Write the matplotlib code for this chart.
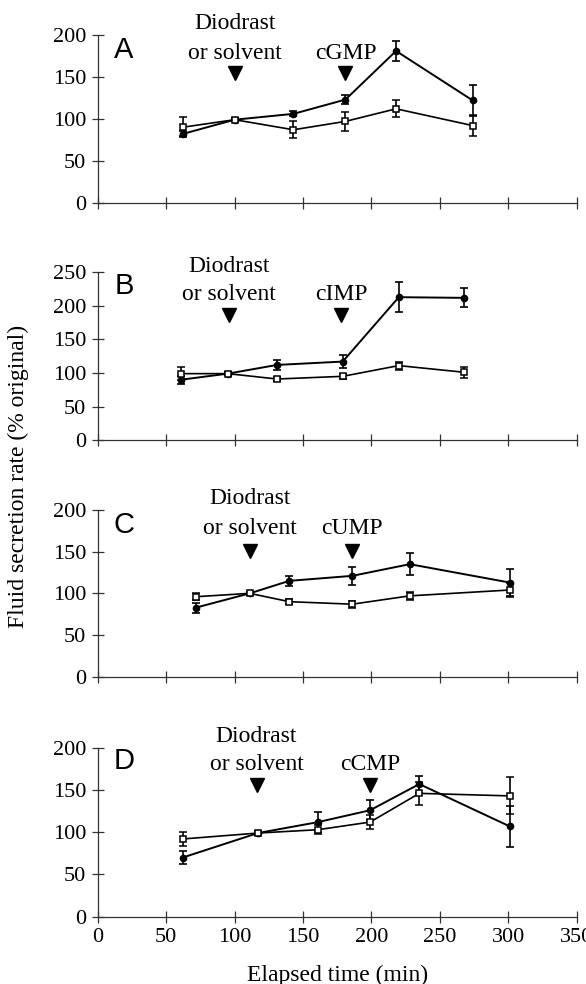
import matplotlib
matplotlib.use('Agg')
import matplotlib.pyplot as plt

plt.rcParams['font.family'] = 'Liberation Serif'

# Elapsed time (min) of each collection, per panel
timeA = [62, 100, 143, 181, 218, 274]
timeB = [61, 95, 131, 179, 220, 268]
timeC = [72, 111, 140, 186, 228, 301]
timeD = [62, 117, 161, 199, 235, 301]

# Diodrast (filled circles), mean and SE
diodrastA = [82, 99, 106, 123, 181, 122]
diodrastErrA = [3, 2, 3, 5, 12, 18]
diodrastB = [90, 99, 112, 117, 213, 212]
diodrastErrB = [6, 2, 7, 10, 22, 14]
diodrastC = [83, 100, 115, 121, 135, 113]
diodrastErrC = [6, 2, 6, 11, 13, 16]
diodrastD = [70, 99, 112, 126, 157, 107]
diodrastErrD = [8, 2, 12, 12, 10, 24]

# Solvent (open squares), mean and SE
solventA = [90, 99, 87, 97, 112, 92]
solventErrA = [12, 2, 10, 11, 10, 13]
solventB = [99, 99, 91, 95, 111, 101]
solventErrB = [10, 2, 3, 4, 6, 8]
solventC = [96, 100, 90, 87, 97, 104]
solventErrC = [4, 2, 3, 4, 5, 8]
solventD = [92, 99, 103, 112, 146, 143]
solventErrD = [8, 2, 5, 8, 14, 22]

panelLetters = ['A', 'B', 'C', 'D']
nucleotides = ['cGMP', 'cIMP', 'cUMP', 'cCMP']
yMax = [200, 250, 200, 200]
# time of Diodrast/solvent and nucleotide additions
additionTimes = [[100, 181], [96, 178], [111, 186], [116, 199]]

times = [timeA, timeB, timeC, timeD]
diodrast = [diodrastA, diodrastB, diodrastC, diodrastD]
diodrastErr = [diodrastErrA, diodrastErrB, diodrastErrC, diodrastErrD]
solvent = [solventA, solventB, solventC, solventD]
solventErr = [solventErrA, solventErrB, solventErrC, solventErrD]

fig = plt.figure(figsize=(5.86, 9.84), dpi=100)

# axes rectangles (figure fraction) and label heights (axes fraction)
bottoms = [0.794, 0.5528, 0.3123, 0.0684]
heights = [0.1704, 0.1704, 0.1694, 0.1717]
labelY = [(1.07, 0.89, 0.775, 0.91), (1.035, 0.87, 0.745, 0.92),
          (1.07, 0.89, 0.756, 0.91), (1.065, 0.90, 0.78, 0.92)]

for i in range(4):
    ax = fig.add_axes([0.167, bottoms[i], 0.817, heights[i]])
    ax.errorbar(times[i], diodrast[i], yerr=diodrastErr[i], color='black', marker='o',
                ms=4.5, lw=1.4, elinewidth=1.2, capsize=3, capthick=1.2)
    ax.errorbar(times[i], solvent[i], yerr=solventErr[i], color='black', marker='s',
                ms=4.5, mfc='white', mec='black', mew=1.1, lw=1.2,
                elinewidth=1.2, capsize=3, capthick=1.2)

    ax.set_xlim(0, 350)
    ax.set_ylim(0, yMax[i])
    ax.set_xticks(range(0, 351, 50))
    ax.set_yticks(range(0, yMax[i] + 1, 50))
    for side in ['top', 'right']:
        ax.spines[side].set_visible(False)
    for side in ['left', 'bottom']:
        ax.spines[side].set_color('#333333')
        ax.spines[side].set_linewidth(0.9)
    ax.tick_params(direction='inout', length=9, width=0.9, color='#333333',
                   labelsize=16, pad=4)
    if i < 3:
        ax.tick_params(labelbottom=False)

    tr = ax.get_xaxis_transform()
    dioY, solvY, arrowY, letterY = labelY[i]
    x1, x2 = additionTimes[i]
    ax.text(x1, dioY, 'Diodrast', transform=tr, ha='center', va='center', fontsize=17)
    ax.text(x1, solvY, 'or solvent', transform=tr, ha='center', va='center', fontsize=17)
    ax.text(x2, solvY, nucleotides[i], transform=tr, ha='center', va='center', fontsize=17)
    ax.plot([x1, x2], [arrowY, arrowY], 'v', color='black', ms=10,
            transform=tr, clip_on=False)
    ax.text(19, letterY, panelLetters[i], transform=tr, ha='center', va='center',
            fontsize=21, family='Liberation Sans')

fig.text(0.032, 0.516, 'Fluid secretion rate (% original)', rotation=90,
         ha='center', va='center', fontsize=17)
fig.text(0.576, 0.009, 'Elapsed time (min)', ha='center', va='center', fontsize=17)

plt.savefig('out.png', dpi=100)
